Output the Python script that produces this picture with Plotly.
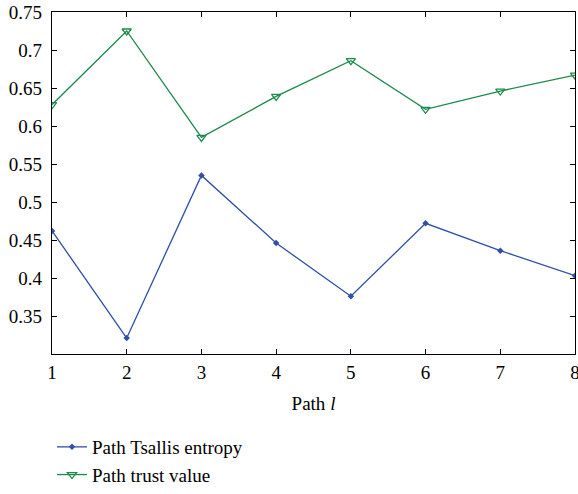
import plotly.graph_objects as go

paths = [1, 2, 3, 4, 5, 6, 7, 8]
tsallis_entropy = [0.462, 0.321, 0.535, 0.446, 0.376, 0.472, 0.436, 0.403]
trust_value = [0.628, 0.725, 0.585, 0.639, 0.686, 0.622, 0.646, 0.667]
y_ticks = [0.35, 0.4, 0.45, 0.5, 0.55, 0.6, 0.65, 0.7, 0.75]
y_tick_text = ["0.35", "0.4", "0.45", "0.5", "0.55", "0.6", "0.65", "0.7", "0.75"]

blue = "#2F4FA8"
green = "#1C8A4C"
font_family = "Liberation Serif, DejaVu Serif, serif"

fig = go.Figure()
fig.add_trace(go.Scatter(
    x=paths, y=tsallis_entropy, mode="lines+markers",
    name="Path Tsallis entropy",
    line=dict(color=blue, width=1.3),
    marker=dict(symbol="diamond", size=5, color=blue),
))
fig.add_trace(go.Scatter(
    x=paths, y=trust_value, mode="lines+markers",
    name="Path trust value",
    line=dict(color=green, width=1.3),
    marker=dict(symbol="triangle-down-open", size=8, color=green, line=dict(width=1.3)),
))

axis_common = dict(
    showgrid=False, zeroline=False, showline=True, linecolor="black", linewidth=1.3,
    mirror="ticks", ticks="inside", ticklen=5, tickwidth=1.2, tickcolor="black",
    tickfont=dict(family=font_family, size=19, color="black"),
    ticklabeloverflow="allow", automargin=False,
)
fig.update_xaxes(range=[1, 8], tickvals=paths, ticktext=[str(p) for p in paths],
                 ticklabelstandoff=1,
                 title=dict(text="Path <i>l</i>", font=dict(family=font_family, size=19, color="black"), standoff=14),
                 **axis_common)
fig.update_yaxes(range=[0.3, 0.75], tickvals=y_ticks, ticktext=y_tick_text,
                 ticklabelstandoff=5, **axis_common)

fig.update_layout(
    width=578, height=494,
    margin=dict(l=52, r=3, t=12, b=140),
    plot_bgcolor="white", paper_bgcolor="white",
    font=dict(family=font_family, size=19, color="black"),
    legend=dict(x=0.0, y=0.0, xanchor="left", yanchor="bottom", yref="container",
                font=dict(family=font_family, size=19, color="black"),
                bgcolor="rgba(0,0,0,0)", tracegroupgap=0, itemwidth=30),
    showlegend=True,
)
fig.write_html("out.html")
